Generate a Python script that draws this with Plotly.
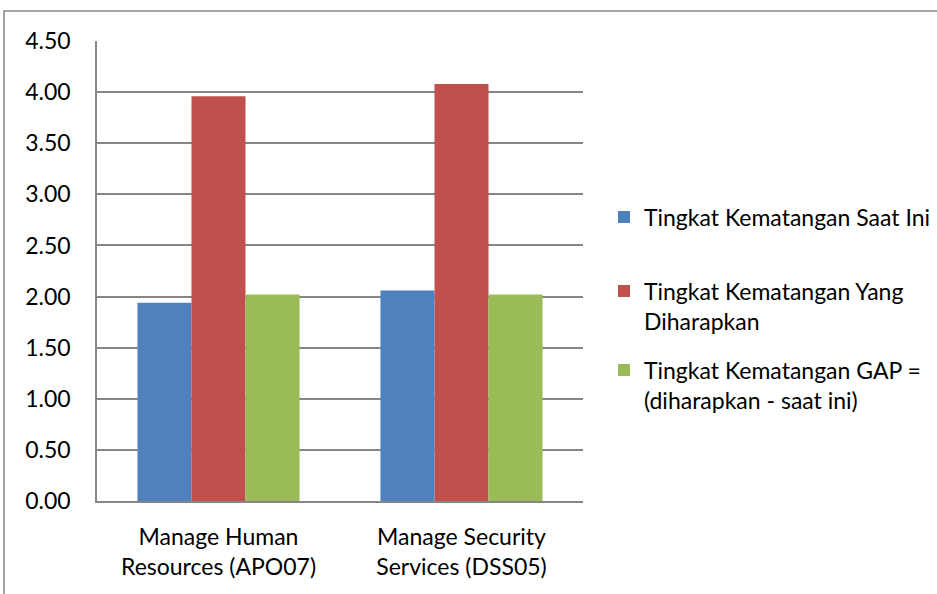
import plotly.graph_objects as go

categories = ["Manage Human<br>Resources (APO07)", "Manage Security<br>Services (DSS05)"]
series_names = [
    "Tingkat Kematangan Saat Ini",
    "Tingkat Kematangan Yang<br>Diharapkan",
    "Tingkat Kematangan GAP =<br>(diharapkan - saat ini)",
]
saat_ini = [1.94, 2.06]
diharapkan = [3.96, 4.08]
gap = [2.02, 2.02]
colors = ["#4F81BD", "#C0504D", "#9BBB59"]
y_ticks = [0, 0.5, 1.0, 1.5, 2.0, 2.5, 3.0, 3.5, 4.0, 4.5]

FONT = "Lato"
FS = 23
fig = go.Figure()
legends = ["legend", "legend2", "legend3"]
for name, vals, col, lg in zip(series_names, [saat_ini, diharapkan, gap], colors, legends):
    fig.add_trace(go.Bar(x=categories, y=vals, name=name, marker_color=col,
                         marker_line_width=0, legend=lg))

L, R, T, B = 97, 937 - 583, 41, 594 - 501
W = 937 - L - R
H = 594 - T - B

def px_x(px):
    return (px - L) / W

def px_y(py):
    return (594 - B - py) / H

def cx(px):
    return px / 937

def cy(py):
    return (594 - py) / 594

legend_common = dict(font=dict(family=FONT, size=FS, color="#000000"),
                     bgcolor="rgba(0,0,0,0)", xanchor="left", yanchor="middle",
                     valign="top", itemsizing="constant",
                     xref="container", yref="container")
fig.update_layout(
    width=937, height=594,
    margin=dict(l=L, r=R, t=T, b=B, autoexpand=False),
    paper_bgcolor="white", plot_bgcolor="white",
    barmode="group", bargap=0.333, bargroupgap=0,
    font=dict(family=FONT, size=FS, color="#000000"),
    xaxis=dict(showline=True, linecolor="#868686", linewidth=1.5, ticks="",
               tickfont=dict(family=FONT, size=FS), showgrid=False,
               ticklabelstandoff=15),
    yaxis=dict(range=[0, 4.5], tickvals=y_ticks, ticktext=[f"{v:.2f}" for v in y_ticks],
               showgrid=True, gridcolor="#868686", gridwidth=1.5,
               showline=True, linecolor="#868686", linewidth=1.5,
               zeroline=False, ticks="", ticklen=0,
               ticklabelstandoff=20,
               tickfont=dict(family=FONT, size=FS)),
    legend=dict(x=cx(604), y=cy(217), **legend_common),
    legend2=dict(x=cx(604), y=cy(306), **legend_common),
    legend3=dict(x=cx(604), y=cy(385), **legend_common),
    showlegend=True,
    shapes=[dict(type="rect", xref="paper", yref="paper",
                 x0=px_x(4), x1=px_x(960), y0=px_y(620), y1=px_y(11),
                 line=dict(color="#868686", width=1.5), fillcolor="rgba(0,0,0,0)", layer="below")],
)

fig.write_html("out.html")
